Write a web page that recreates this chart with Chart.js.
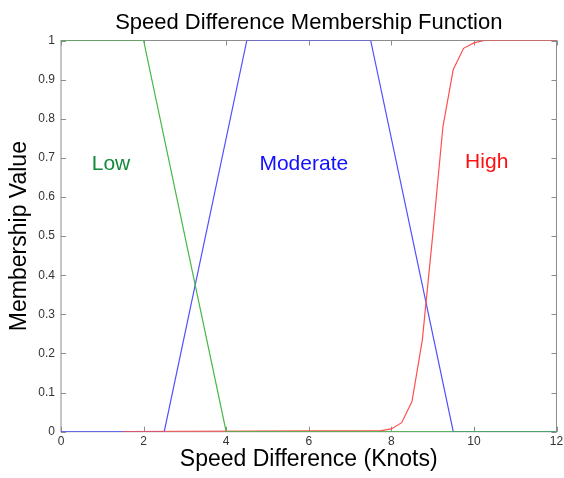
<!DOCTYPE html>
<html>
<head>
<meta charset="utf-8">
<script src="https://cdn.jsdelivr.net/npm/chart.js@4.4.1/dist/chart.umd.min.js"></script>
<style>
  html, body { margin: 0; background: #fff; }
  #wrap { width: 564px; height: 478px; position: relative; }
</style>
</head>
<body>
<div id="wrap"><canvas id="mf"></canvas></div>
<script>
// membership functions for speed difference (knots)
const xTickValues = [0, 2, 4, 6, 8, 10, 12];
const yTickLabels = ["0", "0.1", "0.2", "0.3", "0.4", "0.5", "0.6", "0.7", "0.8", "0.9", "1"];

const lowX = [0, 2, 4, 12];
const lowY = [1, 1, 0, 0];

const moderateX = [0, 2.5, 4.5, 7.5, 9.5, 12];
const moderateY = [0, 0, 1, 1, 0, 0];

const highX = [1.5, 7.75, 8, 8.25, 8.5, 8.75, 9, 9.25, 9.5, 9.75, 10, 10.25, 12];
const highY = [0, 0.003, 0.007, 0.023, 0.077, 0.234, 0.5, 0.78, 0.926, 0.98, 0.994, 1, 1];

const setNames = ["Low", "Moderate", "High"];

const FONT = "'Liberation Sans', Arial, Helvetica, sans-serif";
const toPoints = (xs, ys) => xs.map((x, i) => ({ x, y: ys[i] }));

// where the set names sit, in data units
const nameAnchors = [
  { x: 1.21, y: 0.669, color: "#138a3c" },
  { x: 5.88, y: 0.669, color: "#1010ff" },
  { x: 10.31, y: 0.673, color: "#ff1010" },
];

// MATLAB-style box with inward ticks on all four sides
const axesBox = {
  id: "axesBox",
  beforeDatasetsDraw(chart) {
    const { ctx, chartArea: a, scales: { x, y } } = chart;
    ctx.save();
    ctx.strokeStyle = "#8c8c8c";
    ctx.lineWidth = 1;
    ctx.strokeRect(a.left, a.top, a.right - a.left, a.bottom - a.top);
    ctx.beginPath();
    x.ticks.forEach((t) => {
      const px = Math.round(x.getPixelForValue(t.value)) + 0.5;
      ctx.moveTo(px, a.bottom); ctx.lineTo(px, a.bottom - 5);
      ctx.moveTo(px, a.top); ctx.lineTo(px, a.top + 5);
    });
    y.ticks.forEach((t) => {
      const py = Math.round(y.getPixelForValue(t.value)) + 0.5;
      ctx.moveTo(a.left, py); ctx.lineTo(a.left + 5, py);
      ctx.moveTo(a.right, py); ctx.lineTo(a.right - 5, py);
    });
    ctx.stroke();
    ctx.restore();
  },
};

const setLabels = {
  id: "setLabels",
  afterDatasetsDraw(chart) {
    const { ctx, scales: { x, y } } = chart;
    ctx.save();
    ctx.font = `21px ${FONT}`;
    ctx.textAlign = "center";
    ctx.textBaseline = "alphabetic";
    setNames.forEach((name, i) => {
      const a = nameAnchors[i];
      ctx.fillStyle = a.color;
      ctx.fillText(name, x.getPixelForValue(a.x), y.getPixelForValue(a.y));
    });
    ctx.restore();
  },
};

const lineStyle = { showLine: true, pointRadius: 0, borderWidth: 1.2, tension: 0, fill: false };

new Chart(document.getElementById("mf"), {
  type: "scatter",
  data: {
    datasets: [
      { label: "Low", data: toPoints(lowX, lowY), borderColor: "#45b845", ...lineStyle },
      { label: "High", data: toPoints(highX, highY), borderColor: "#ff4f4f", ...lineStyle },
      { label: "Moderate", data: toPoints(moderateX, moderateY), borderColor: "#5050ff", ...lineStyle },
    ],
  },
  options: {
    responsive: true,
    maintainAspectRatio: false,
    animation: false,
    layout: { padding: { top: 0, left: 0, right: 7.5, bottom: 0 } },
    plugins: {
      legend: { display: false },
      tooltip: { enabled: false },
      title: {
        display: true,
        text: "Speed Difference Membership Function",
        fullSize: false,
        color: "#000",
        font: { family: FONT, size: 22, weight: "normal" },
        padding: { top: 10, bottom: 4.1 },
      },
    },
    scales: {
      x: {
        type: "linear",
        min: 0,
        max: 12,
        afterBuildTicks: (s) => { s.ticks = xTickValues.map((v) => ({ value: v })); },
        afterFit: (s) => { s.height = 46.3; s.paddingLeft = 0; s.paddingRight = 0; },
        grid: { display: false, drawTicks: false },
        border: { display: false },
        ticks: { color: "#333", font: { family: FONT, size: 12 }, padding: 3, maxRotation: 0, autoSkip: false },
        title: {
          display: true,
          text: "Speed Difference (Knots)",
          color: "#000",
          font: { family: FONT, size: 23 },
          padding: { top: 0, bottom: 5 },
        },
      },
      y: {
        min: 0,
        max: 1,
        afterBuildTicks: (s) => { s.ticks = yTickLabels.map((l) => ({ value: Number(l) })); },
        afterFit: (s) => { s.width = 61; },
        grid: { display: false, drawTicks: false },
        border: { display: false },
        ticks: {
          color: "#333",
          font: { family: FONT, size: 12 },
          padding: 6,
          autoSkip: false,
          callback: (v, i) => yTickLabels[i],
        },
        title: {
          display: true,
          text: "Membership Value",
          color: "#000",
          font: { family: FONT, size: 23 },
          padding: { top: 6, bottom: 0 },
        },
      },
    },
  },
  plugins: [axesBox, setLabels],
});
</script>
</body>
</html>
